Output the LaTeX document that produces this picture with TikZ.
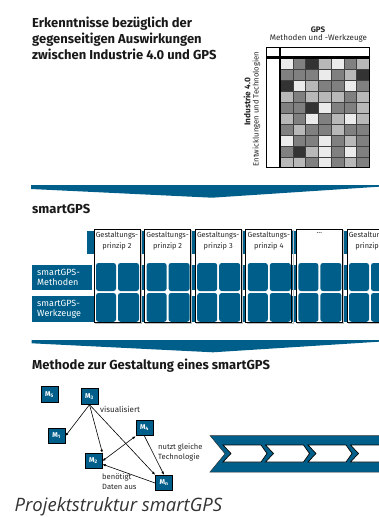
\documentclass[tikz,border=0pt]{standalone}
\usepackage{fontspec}
\setmainfont{Fira Sans}
\newfontfamily\capfont{Open Sans}
\usetikzlibrary{arrows.meta}
\definecolor{sgblue}{HTML}{005F8A}
\definecolor{gL}{gray}{0.92}
\definecolor{gS}{gray}{0.72}
\definecolor{gM}{gray}{0.50}
\definecolor{gD}{gray}{0.20}
\tikzset{
  titletext/.style={anchor=base west, inner sep=0, font=\bfseries\fontsize{13}{15}\selectfont, text=black!90},
  smalltext/.style={inner sep=0, font=\fontsize{7}{8.5}\selectfont, text=black!85},
  band/.style={fill=sgblue},
  colbox/.style={fill=white, draw=black, line width=0.7},
  sq/.style={fill=sgblue, rounded corners=2.5},
  rowlabel/.style={fill=sgblue, text=white, anchor=north west, inner sep=0, align=left, font=\fontsize{9}{10.3}\selectfont},
  mbox/.style={fill=sgblue, draw=black, line width=0.8, minimum width=17, minimum height=15.5, inner sep=0, text=white, font=\bfseries\fontsize{7}{8}\selectfont},
  link/.style={line width=0.6, -{Latex[length=3.2pt,width=2.6pt]}},
}
\newcommand{\dotslab}{\textellipsis}
\begin{document}
\begin{tikzpicture}[x=1pt,y=-1pt]
\useasboundingbox (0,0) rectangle (379,517);
\clip (0,0) rectangle (379,517);

% ---- title block
\node[titletext] (t1) at (32,27.3) {Erkenntnisse bezüglich der};
\node[titletext] (t2) at (32,43.6) {gegenseitigen Auswirkungen};
\node[titletext] (t3) at (32,59.9) {zwischen Industrie 4.0 und GPS};

% ---- matrix
\node[smalltext, font=\bfseries\fontsize{8}{9}\selectfont] (gps) at (318,29.5) {GPS};
\node[smalltext, font=\fontsize{8}{9}\selectfont] (gpssub) at (318.5,38.5) {Methoden und -Werkzeuge};
\node[smalltext, rotate=90, font=\bfseries\fontsize{8.3}{9}\selectfont] (ind) at (247,102) {Industrie 4.0};
\node[smalltext, rotate=90, font=\fontsize{7.7}{9}\selectfont] (indsub) at (256.5,109) {Entwicklungen und Technologien};

\foreach \row [count=\r from 0] in {
  {L,M,D,S,L,M,S},
  {M,M,M,L,M,S,D},
  {D,L,S,M,M,L,M},
  {S,M,S,S,S,M,S},
  {M,M,D,L,M,M,S},
  {S,M,L,M,S,L,S},
  {M,S,M,M,S,M,M},
  {L,M,M,L,M,S,M},
  {M,D,S,L,M,L,M},
  {S,S,M,L,M,S,M}} {
  \foreach \c [count=\k from 0] in \row {
    \fill[g\c, draw=black!75, line width=0.5] (280+12.76*\k,58.5+10.92*\r) rectangle ++(12.76,10.92);
  }
}
\draw[line width=1.4, fill=white] (266.7,47.3) rectangle (280,57);
\draw[line width=1.4, fill=white] (280,47.3) rectangle (369.3,57);
\draw[line width=1.4, fill=white] (266.7,58.5) rectangle (280,167.7);
\draw[line width=1.4] (280,58.5) rectangle (369.3,167.7);

% ---- band arrow 1
\fill[band] (31,185) -- (379,185) -- (379,186.7) -- (212,197.7) -- (31,189) -- cycle;

% ---- smartGPS section
\node[titletext] (sgps) at (32,213) {smartGPS};

\fill[band] (87,231) rectangle (379,254);
\fill[band] (94,265) rectangle (379,290);
\fill[band] (94,296) rectangle (379,322);

\node[rowlabel, minimum width=56, minimum height=25, text width=50, inner xsep=5] (rm) at (32,265) {smartGPS-\\Methoden};
\node[rowlabel, minimum width=60, minimum height=26, text width=54, inner xsep=5] (rw) at (32,296) {smartGPS-\\Werkzeuge};

\foreach \lab [count=\i from 0] in {{Gestaltungs-\\prinzip 2},{Gestaltungs-\\prinzip 2},{Gestaltungs-\\prinzip 3},{Gestaltungs-\\prinzip 4},{\dotslab},{Gestaltungs-\\prinzip 5}} {
  \pgfmathsetmacro{\xc}{94+50.6*\i}
  \draw[black!25, line width=1] (\xc+1.2,230.2) rectangle (\xc+47.2,323);
  \draw[colbox] (\xc,229) rectangle (\xc+46,322);
  \node[smalltext, align=center, anchor=north, font=\fontsize{7.4}{10.5}\selectfont] (lab\i) at (\xc+23,232) {\lab};
  \fill[sq] (\xc+2,263) rectangle (\xc+22,291);
  \fill[sq] (\xc+24,263) rectangle (\xc+45,291);
  \fill[sq] (\xc+2,293) rectangle (\xc+22,321.8);
  \fill[sq] (\xc+24,293) rectangle (\xc+45,321.8);
}

% ---- band arrow 2
\fill[band] (31.7,340) -- (379,340) -- (379,341.7) -- (213,352.3) -- (31.7,343.3) -- cycle;

% ---- method section
\node[titletext] (meth) at (32,369.5) {Methode zur Gestaltung eines smartGPS};

\node[mbox] (M5) at (49.5,394.5) {M\textsubscript{5}};
\node[mbox] (M3) at (89.5,396.5) {M\textsubscript{3}};
\node[mbox] (M1) at (56.5,436) {M\textsubscript{1}};
\node[mbox] (M4) at (144.5,428) {M\textsubscript{4}};
\node[mbox] (M2) at (93.5,461) {M\textsubscript{2}};
\node[mbox] (Mn) at (164,483) {M\textsubscript{n}};

\draw[link] (M3.south) -- (M1.east);
\draw[link] (M3.south) -- (M2.north east);
\draw[link] (M3.south) -- (Mn.north west);
\draw[link] (M4.south) -- (Mn.north);
\draw[link, {Latex[length=3.2pt,width=2.6pt]}-{Latex[length=3.2pt,width=2.6pt]}] (M2.east) -- (M4.south west);
\draw[link] (Mn.west) -- (M2.-20);

\node[smalltext, anchor=west, font=\fontsize{8}{9}\selectfont] (lv) at (100,409) {visualisiert};
\node[smalltext, anchor=west, align=left, font=\fontsize{7.6}{10}\selectfont] (lt) at (158,452.5) {nutzt gleiche\\Technologie};
\node[smalltext, anchor=west, align=left, font=\fontsize{7.6}{9.5}\selectfont] (lb) at (102,481.5) {benötigt\\Daten aus};

% ---- chevron process
\fill[sgblue, draw=black!80, line width=0.5] (210,435.5) -- (385,435.5) -- (385,472) -- (210,472) -- (225,453.75) -- cycle;
\foreach \i in {0,1,2,3} {
  \pgfmathsetmacro{\xo}{223+42.5*\i}
  \draw[fill=white, draw=black, line width=0.7] (\xo,445) -- (\xo+38,445) -- (\xo+44,453.5) -- (\xo+38,462) -- (\xo,462) -- (\xo+8,453.5) -- cycle;
}

% ---- caption
\node[anchor=base west, inner sep=0, font=\capfont\itshape\fontsize{18.5}{20}\selectfont, text=black!80] (cap) at (14.5,511.7) {Projektstruktur smartGPS};
\end{tikzpicture}
\end{document}
